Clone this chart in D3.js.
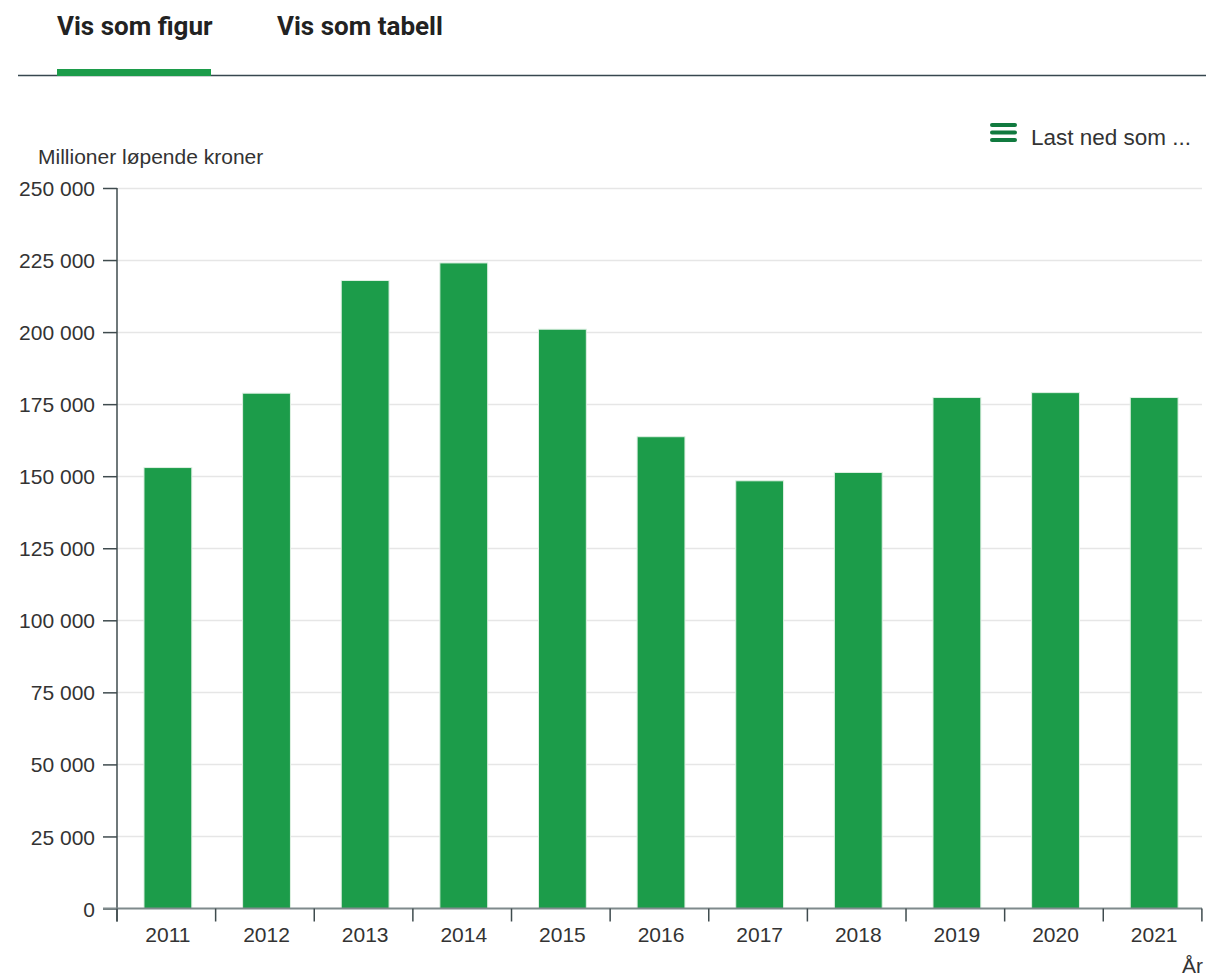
<!DOCTYPE html>
<html>
<head>
<meta charset="utf-8">
<script src="https://cdn.jsdelivr.net/npm/d3@7"></script>
<style>
  body { margin: 0; background: #fff; font-family: "Liberation Sans", Arial, sans-serif; }
  .tab { font-family: Roboto, sans-serif; font-weight: 700; font-size: 26px; fill: #222; }
  .axis text { font-family: "Liberation Sans", Arial, sans-serif; font-size: 21px; fill: #333; }
</style>
</head>
<body>
<svg id="chart" width="1206" height="977"></svg>
<script>
// Data
const years = ["2011","2012","2013","2014","2015","2016","2017","2018","2019","2020","2021"];
const values = [153000, 178800, 217900, 224000, 201000, 163700, 148400, 151300, 177300, 179000, 177300];
const yTicks = [0, 25000, 50000, 75000, 100000, 125000, 150000, 175000, 200000, 225000, 250000];

const svg = d3.select("#chart");
const margin = { left: 117, right: 4, top: 188, bottom: 68 };
const width = 1206, height = 977;

// Tabs header
svg.append("text").attr("class", "tab").attr("x", 57).attr("y", 35).text("Vis som figur");
svg.append("text").attr("class", "tab").attr("x", 277).attr("y", 35).text("Vis som tabell");
svg.append("line")
    .attr("x1", 18).attr("x2", 1206).attr("y1", 75.5).attr("y2", 75.5)
    .attr("stroke", "#37474f").attr("stroke-width", 1.5);
svg.append("rect")
    .attr("x", 57).attr("y", 69).attr("width", 154).attr("height", 7)
    .attr("fill", "#1c9c4a");

// Download menu
const menu = svg.append("g").attr("transform", "translate(990,123)");
[0, 7.5, 15].forEach(dy => {
    menu.append("rect").attr("x", 0).attr("y", dy).attr("width", 27).attr("height", 4)
        .attr("rx", 2).attr("fill", "#117a3f");
});
svg.append("text").attr("x", 1031).attr("y", 145)
    .attr("font-size", 22.5).attr("fill", "#333").text("Last ned som ...");

// Scales
const x = d3.scaleBand()
    .domain(years)
    .range([margin.left, width - margin.right])
    .paddingInner(0.515).paddingOuter(0.258).align(0.53);

const y = d3.scaleLinear()
    .domain([0, 250000])
    .range([height - margin.bottom - 0.5, margin.top]);

const fmt = d => d3.format(",")(d).replace(/,/g, " ");

// Gridlines
svg.append("g")
    .selectAll("line")
    .data(yTicks.slice(1))
    .join("line")
    .attr("x1", margin.left).attr("x2", width - margin.right)
    .attr("y1", d => Math.round(y(d)) + 0.5).attr("y2", d => Math.round(y(d)) + 0.5)
    .attr("stroke", "#e6e6e6").attr("stroke-width", 1.5);

// Bars
svg.append("g")
    .selectAll("rect")
    .data(years)
    .join("rect")
    .attr("x", d => x(d))
    .attr("width", x.bandwidth())
    .attr("y", (d, i) => y(values[i]))
    .attr("height", (d, i) => y(0) - y(values[i]))
    .attr("fill", "#1c9c4a")
    .attr("stroke", "#dff0e3")
    .attr("stroke-width", 1);

// Y axis
const yAxis = d3.axisLeft(y).tickValues(yTicks).tickFormat(fmt).tickSize(14).tickPadding(8);
const gy = svg.append("g").attr("class", "axis")
    .attr("transform", `translate(${margin.left},0)`)
    .call(yAxis);
gy.selectAll("line, path").attr("stroke", "#3f4b4e").attr("stroke-width", 1.5);
gy.select(".domain").attr("d", `M0,${y(250000)}H-0V${y(0) + 13}`);
gy.selectAll("text").attr("dy", "0.36em");

// X axis
const xAxis = d3.axisBottom(x).tickSize(0).tickPadding(19);
const gx = svg.append("g").attr("class", "axis")
    .attr("transform", `translate(0,${y(0)})`)
    .call(xAxis);
gx.select(".domain").attr("stroke", "#7f8a8c").attr("stroke-width", 2)
    .attr("d", `M${margin.left - 14},0H${width - margin.right}`);
// band boundary ticks
const step = x.step();
gx.append("g").selectAll("line")
    .data(d3.range(years.length + 1))
    .join("line")
    .attr("x1", i => margin.left + i * step).attr("x2", i => margin.left + i * step)
    .attr("y1", 0).attr("y2", 13)
    .attr("stroke", "#3f4b4e").attr("stroke-width", 1.5);

// Axis titles
svg.append("text").attr("x", 38).attr("y", 164)
    .attr("font-size", 21).attr("fill", "#333").text("Millioner løpende kroner");
svg.append("text").attr("x", 1203).attr("y", 973).attr("text-anchor", "end")
    .attr("font-size", 21).attr("fill", "#333").text("År");
</script>
</body>
</html>
